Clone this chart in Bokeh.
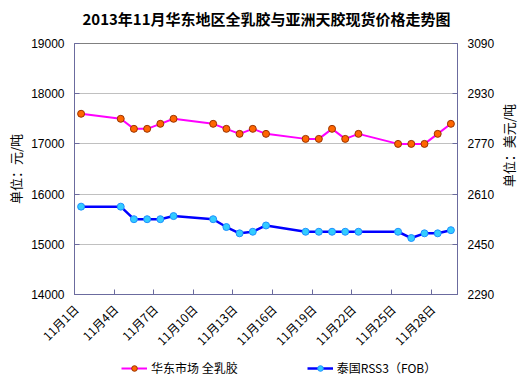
import math
from bokeh.plotting import figure
from bokeh.layouts import column, row
from bokeh.models import (Range1d, LinearAxis, FixedTicker, Legend, LegendItem,
                          ColumnDataSource, Label)
from bokeh.embed import file_html
from bokeh.resources import INLINE

# ---- data ----
days = [1, 4, 5, 6, 7, 8, 11, 12, 13, 14, 15, 18, 19, 20, 21, 22, 25, 26, 27, 28, 29]
rubber_cny = [17600, 17500, 17300, 17300, 17400, 17500, 17400, 17300, 17200, 17300, 17200,
              17100, 17100, 17300, 17100, 17200, 17000, 17000, 17000, 17200, 17400]
rss3_usd = [2570, 2570, 2530, 2530, 2530, 2540, 2530, 2505, 2485, 2490, 2510,
            2490, 2490, 2490, 2490, 2490, 2490, 2470, 2485, 2485, 2495]
n_days = 29
label_days = [1, 4, 7, 10, 13, 16, 19, 22, 25, 28]
x_labels = ["11月1日", "11月4日", "11月7日", "11月10日", "11月13日",
            "11月16日", "11月19日", "11月22日", "11月25日", "11月28日"]
left_ticks = [14000, 15000, 16000, 17000, 18000, 19000]
right_ticks = [2290, 2450, 2610, 2770, 2930, 3090]
series_names = ["华东市场 全乳胶", "泰国RSS3（FOB）"]
title_text = "2013年11月华东地区全乳胶与亚洲天胶现货价格走势图"
left_unit = "单位：元/吨"
right_unit = "单位：美元/吨"

CJK = "Noto Sans CJK SC"
NUM = "Liberation Sans"
AXIS_COL = "#6B6B9E"
LABEL_SHIFT = 0.4
PINK, ORANGE, ORANGE_EDGE = "#FF00FF", "#FF6600", "#993300"
BLUE, CYAN, CYAN_EDGE = "#0000FF", "#33CCFF", "#1E90FF"


def strip(w, h, xr=(0, 1), yr=(0, 1)):
    f = figure(width=w, height=h, output_backend="svg", toolbar_location=None,
               x_range=Range1d(*xr), y_range=Range1d(*yr),
               x_axis_type=None, y_axis_type=None,
               min_border_left=0, min_border_right=0, min_border_top=0, min_border_bottom=0)
    f.outline_line_color = None
    f.grid.visible = False
    return f


src = ColumnDataSource(dict(x=[d - 0.5 for d in days], cny=rubber_cny, usd=rss3_usd))

# ---------------- title strip ----------------
tf = strip(528, 30, (0, 528), (0, 30))
tf.add_layout(Label(x=266, y=12, text=title_text, text_align="center", text_baseline="middle",
                    text_font=CJK, text_font_size="15px", text_font_style="bold",
                    text_color="black"))

# ---------------- main chart ----------------
p = figure(width=500, height=327, output_backend="svg", toolbar_location=None,
           x_range=Range1d(0, n_days), y_range=Range1d(left_ticks[0], left_ticks[-1]),
           min_border_left=74, min_border_right=43, min_border_top=13, min_border_bottom=62)
p.background_fill_color = "white"
p.border_fill_color = "white"
p.outline_line_color = "#808080"

p.extra_y_ranges = {"usd": Range1d(right_ticks[0], right_ticks[-1])}

p.xgrid.visible = False
p.ygrid.ticker = FixedTicker(ticks=left_ticks)
p.ygrid.grid_line_color = "#C0C0C0"

ya = p.yaxis[0]
ya.ticker = FixedTicker(ticks=left_ticks)
ya.axis_line_color = AXIS_COL
ya.major_tick_line_color = AXIS_COL
ya.minor_tick_line_color = None
ya.major_tick_in = 5
ya.major_tick_out = 0
ya.major_label_standoff = 10
ya.major_label_text_font = NUM
ya.major_label_text_font_size = "12px"
ya.major_label_text_color = "black"
ya.axis_label = left_unit
ya.axis_label_text_font = CJK
ya.axis_label_text_font_size = "13px"
ya.axis_label_text_font_style = "normal"
ya.axis_label_text_color = "black"
ya.axis_label_standoff = 3

yr = LinearAxis(y_range_name="usd", ticker=FixedTicker(ticks=right_ticks))
yr.axis_line_color = AXIS_COL
yr.major_tick_line_color = AXIS_COL
yr.minor_tick_line_color = None
yr.major_tick_in = 5
yr.major_tick_out = 0
yr.major_label_standoff = 10
yr.major_label_text_font = NUM
yr.major_label_text_font_size = "12px"
yr.major_label_text_color = "black"
p.add_layout(yr, "right")

xt = list(range(0, n_days, 3))
xa = p.xaxis[0]
xa.ticker = FixedTicker(ticks=xt)
xa.major_label_overrides = {t: "" for t in xt}
xa.axis_line_color = AXIS_COL
xa.major_tick_line_color = AXIS_COL
xa.minor_tick_line_color = None
xa.major_tick_in = 5
xa.major_tick_out = 0
xa.major_label_text_font_size = "1px"
xa.major_label_standoff = 0

lx = [d - 0.5 - LABEL_SHIFT for d in label_days]
xl = LinearAxis(ticker=FixedTicker(ticks=lx))
xl.major_label_overrides = {t: lab for t, lab in zip(lx, x_labels)}
xl.axis_line_color = None
xl.major_tick_line_color = None
xl.minor_tick_line_color = None
xl.major_label_orientation = math.pi / 4
xl.major_label_standoff = 6
xl.major_label_text_font = CJK
xl.major_label_text_font_size = "12px"
xl.major_label_text_color = "black"
p.add_layout(xl, "below")

p.line("x", "cny", source=src, line_color=PINK, line_width=2)
p.scatter("x", "cny", source=src, marker="circle", size=7,
          fill_color=ORANGE, line_color=ORANGE_EDGE, line_width=1)
p.line("x", "usd", source=src, y_range_name="usd", line_color=BLUE, line_width=2.5)
p.scatter("x", "usd", source=src, y_range_name="usd", marker="circle", size=7,
          fill_color=CYAN, line_color=CYAN_EDGE, line_width=1)

# ---------------- right unit label (reads bottom to top) ----------------
rf = strip(28, 327, (0, 28), (0, 327))
rf.add_layout(Label(x=8, y=194, text=right_unit, angle=math.pi / 2,
                    text_align="center", text_baseline="middle",
                    text_font=CJK, text_font_size="13px", text_color="black"))

# ---------------- legend strip ----------------
# the series are drawn here too, but fall outside this strip's ranges; only the legend shows
lf = strip(528, 30, (-2, -1), (-2, -1))
g1 = lf.line("x", "cny", source=src, line_color=PINK, line_width=2)
m1 = lf.scatter("x", "cny", source=src, marker="circle", size=7,
                fill_color=ORANGE, line_color=ORANGE_EDGE, line_width=1)
g2 = lf.line("x", "usd", source=src, line_color=BLUE, line_width=2.5)
m2 = lf.scatter("x", "usd", source=src, marker="circle", size=7,
                fill_color=CYAN, line_color=CYAN_EDGE, line_width=1)
legend = Legend(items=[LegendItem(label=series_names[0], renderers=[g1, m1]),
                       LegendItem(label=series_names[1], renderers=[g2, m2])],
                orientation="horizontal", location=(121, 11))
legend.padding = 0
legend.margin = 0
legend.spacing = 69
legend.glyph_width = 26
legend.glyph_height = 14
legend.label_height = 14
legend.label_standoff = 4
legend.label_text_font = CJK
legend.label_text_font_size = "12px"
legend.label_text_color = "black"
legend.border_line_color = None
legend.background_fill_alpha = 0
lf.add_layout(legend, "center")

layout = column(tf, row(p, rf, spacing=0), lf, spacing=0)
open("out.html", "w").write(file_html(layout, INLINE))
